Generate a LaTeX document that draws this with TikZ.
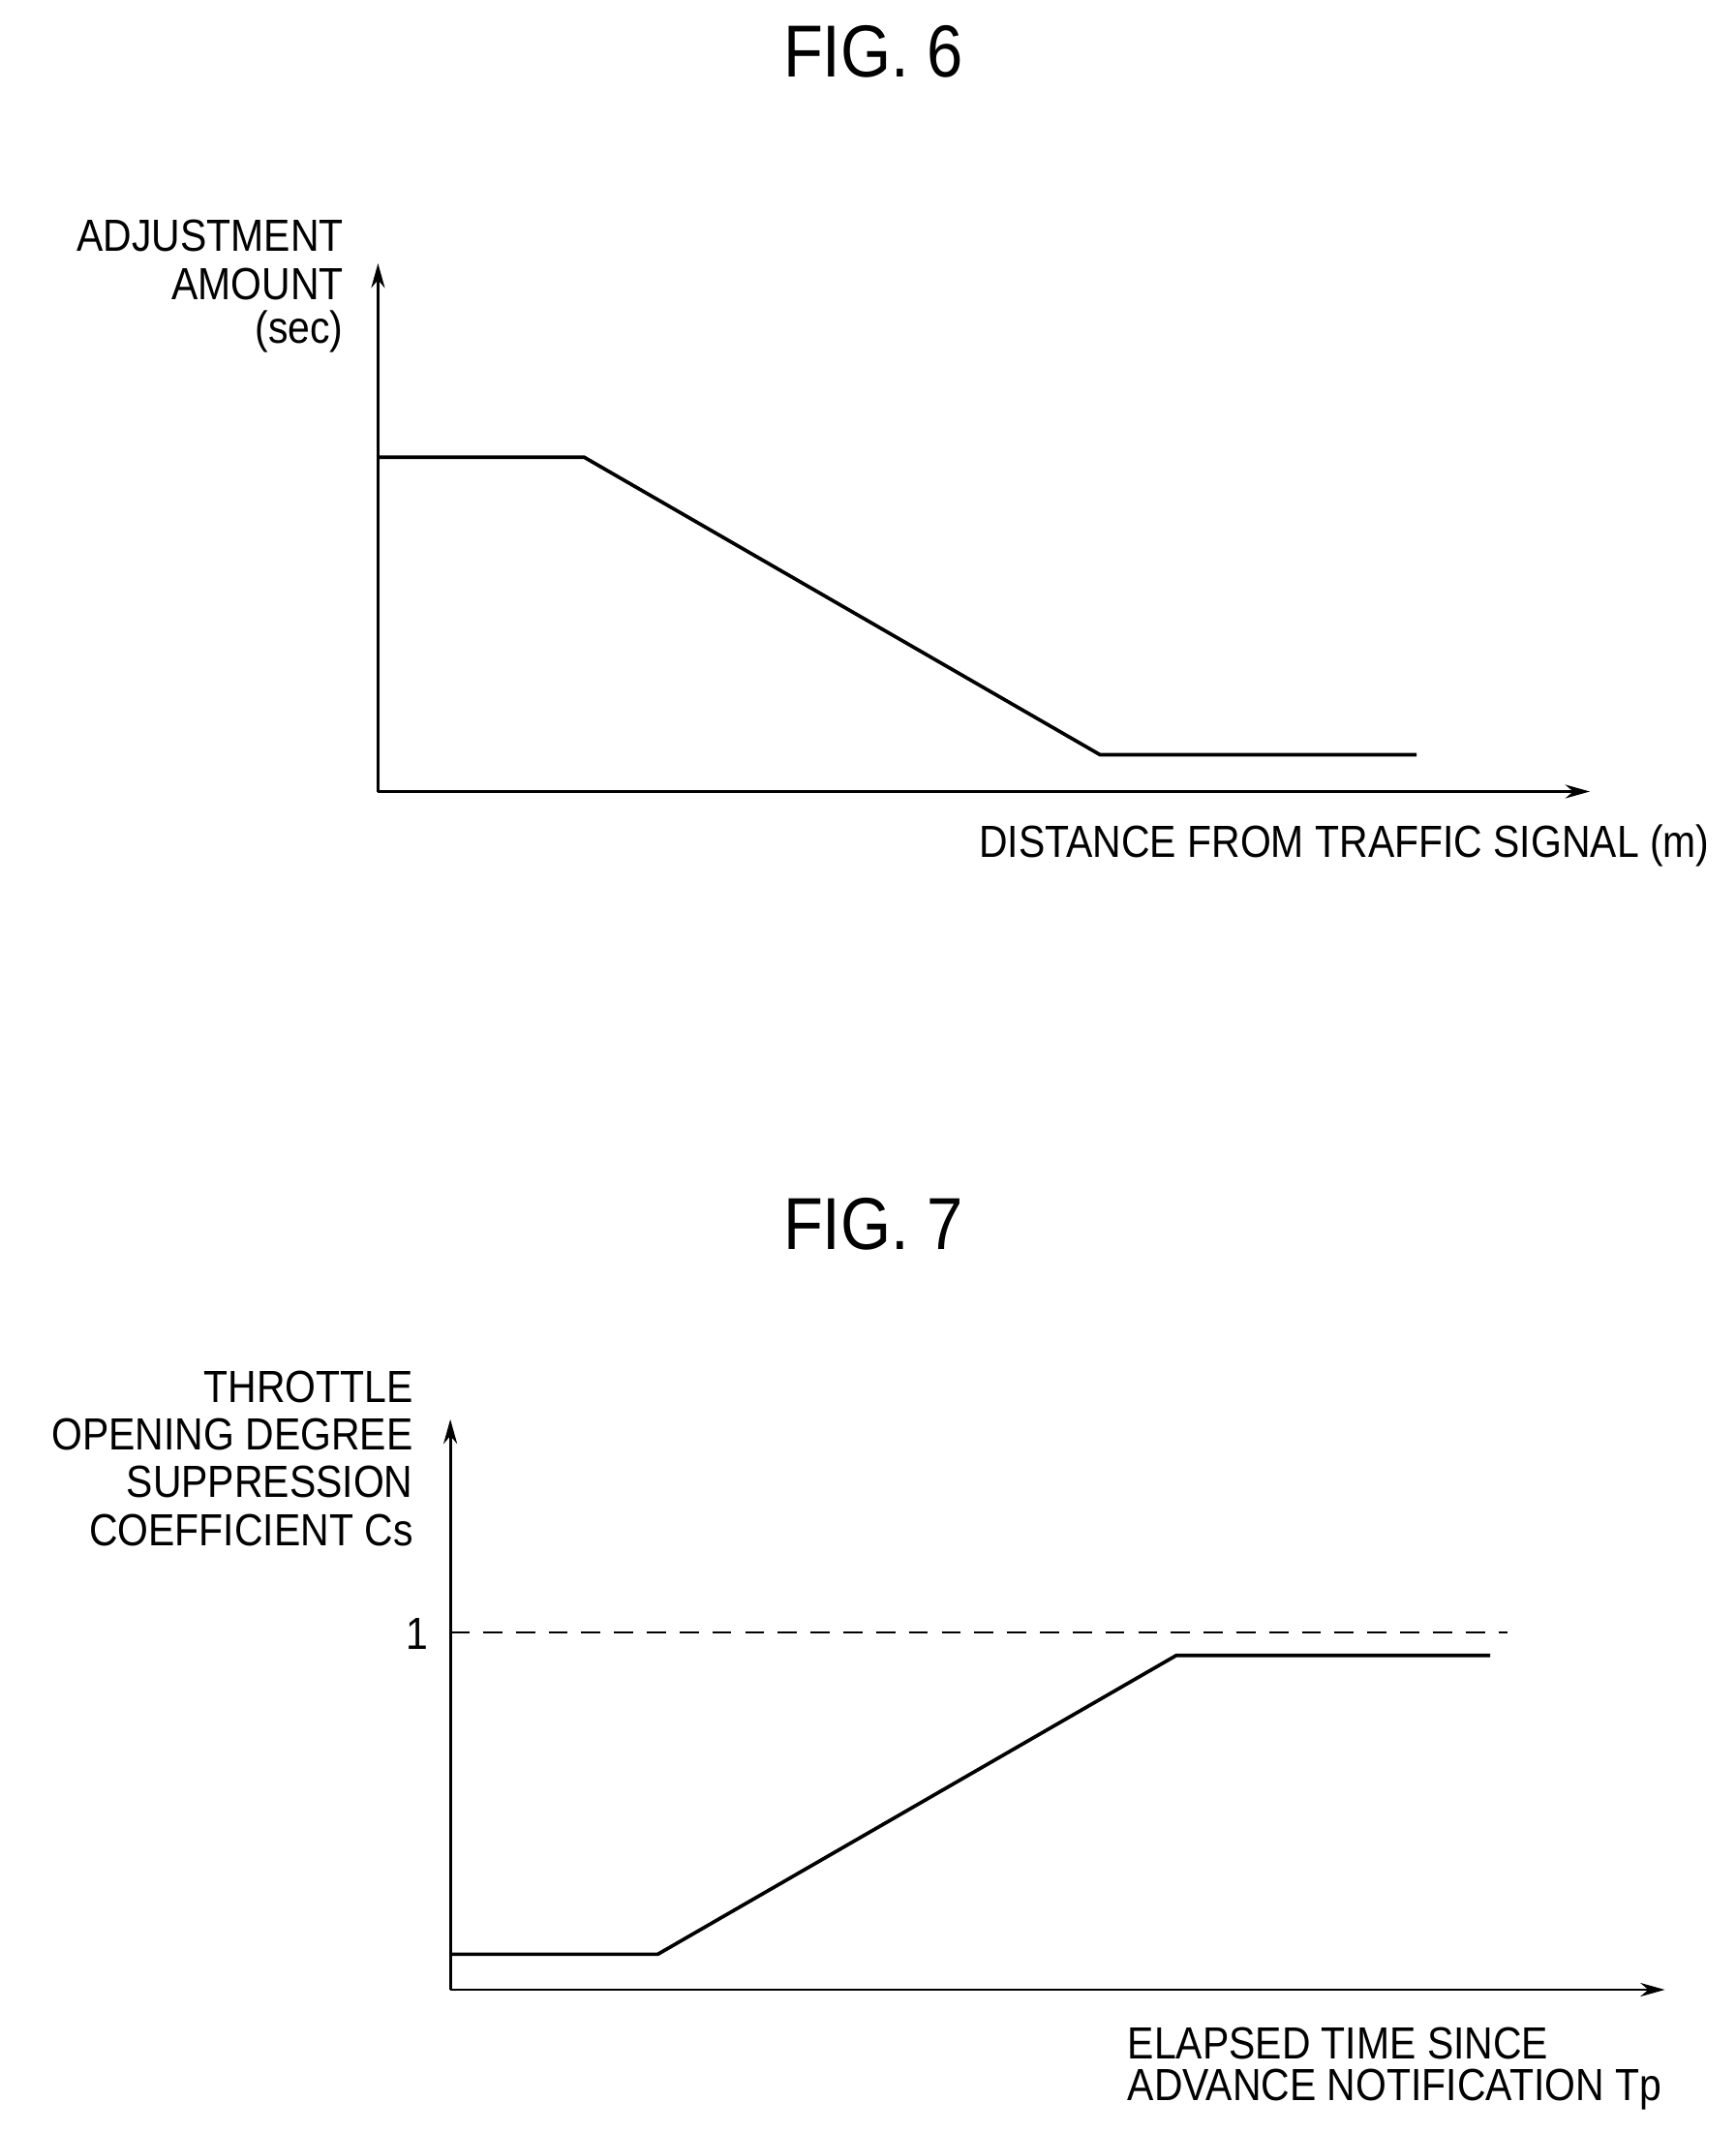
\documentclass[tikz,border=0pt]{standalone}
\usepackage{fontspec}
\usetikzlibrary{arrows.meta}
\setmainfont{Liberation Sans}[FakeStretch=0.88]
\begin{document}
\begin{tikzpicture}[x=0.5pt,y=-0.5pt,
  lab/.style={font=\fontsize{16.5}{17.5}\selectfont,inner sep=0pt},
  ttl/.style={font=\fontsize{27}{30}\selectfont,inner sep=0pt},
  ax/.style={line width=1pt,-{Stealth[length=9pt,width=5pt]}},
  crv/.style={line width=1.3pt}]
\useasboundingbox (0,0) rectangle (1272,1563);
% FIG 6
\node[ttl] (t6) at (640,38) {FIG. 6};
\coordinate (o6) at (277,580);
\coordinate (y6) at (277,193);
\coordinate (x6) at (1165,580);
\draw[ax] (o6) -- (y6);
\draw[ax] (o6) -- (x6);
\coordinate (a1) at (277,335);\coordinate (a2) at (428,335);
\coordinate (a3) at (806,553);\coordinate (a4) at (1038,553);
\draw[crv] (a1)--(a2)--(a3)--(a4);
\node[lab,anchor=east] (l61) at (252,173) {ADJUSTMENT};
\node[lab,anchor=east] (l62) at (252,208) {AMOUNT};
\node[lab,anchor=east] (l63) at (252,243) {(sec)};
\node[lab,anchor=east] (l64) at (1253,620) {DISTANCE FROM TRAFFIC SIGNAL (m)};
% FIG 7
\node[ttl] (t7) at (640,897) {FIG. 7};
\coordinate (o7) at (330,1458);
\coordinate (y7) at (330,1040);
\coordinate (x7) at (1220,1458);
\draw[ax] (o7) -- (y7);
\draw[ax] (o7) -- (x7);
\coordinate (d1) at (330,1196);\coordinate (d2) at (1105,1196);
\draw[line width=0.8pt,dash pattern=on 7pt off 5pt] (d1)--(d2);
\node[lab,anchor=east] (one) at (314,1197) {1};
\coordinate (b1) at (330,1432);\coordinate (b2) at (482,1432);
\coordinate (b3) at (862,1213);\coordinate (b4) at (1092,1213);
\draw[crv] (b1)--(b2)--(b3)--(b4);
\node[lab,anchor=east] (l71) at (303,1016) {THROTTLE};
\node[lab,anchor=east] (l72) at (303,1051) {OPENING DEGREE};
\node[lab,anchor=east] (l73) at (303,1086) {SUPPRESSION};
\node[lab,anchor=east] (l74) at (303,1121) {COEFFICIENT Cs};
\node[lab,anchor=west] (l75) at (826,1497) {ELAPSED TIME SINCE};
\node[lab,anchor=west] (l76) at (826,1531) {ADVANCE NOTIFICATION Tp};
\end{tikzpicture}
\end{document}
